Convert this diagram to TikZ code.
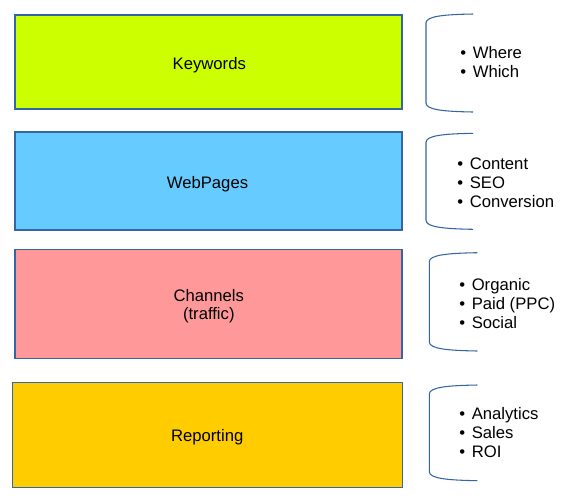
\documentclass[tikz,border=0pt]{standalone}
\usepackage{fontspec}
\setmainfont{Liberation Sans}
\definecolor{edge}{HTML}{3465A4}
\definecolor{lime}{HTML}{CCFF00}
\definecolor{sky}{HTML}{66CCFF}
\definecolor{salmon}{HTML}{FF9999}
\definecolor{gold}{HTML}{FFCC00}
\begin{document}
\begin{tikzpicture}[x=0.75pt,y=-0.75pt,
  box/.style={draw=edge,line width=0.8pt,rectangle,inner sep=0pt},
  lbl/.style={anchor=base,inner sep=0pt,font=\fontsize{12.5}{14.2}\selectfont},
  brk/.style={draw=edge,line width=0.8pt},
  item/.style={anchor=base west,inner sep=0pt,font=\fontsize{12.5}{14.2}\selectfont}]
\useasboundingbox (0,0) rectangle (568,501);
\newcommand{\itm}[1]{\textbullet\hspace{5pt}#1}
% boxes
\node[box,fill=lime,minimum width=290.25pt,minimum height=70.5pt] (kw) at (208.5,62) {};
\node[box,fill=sky,minimum width=290.25pt,minimum height=73.5pt] (wp) at (208.5,181) {};
\node[box,fill=salmon,minimum width=290.25pt,minimum height=81.5pt] (ch) at (208.5,303.7) {};
\node[box,fill=gold,minimum width=292.3pt,minimum height=78.75pt] (rp) at (207.2,434.8) {};
% labels
\node[lbl] (kwl) at (209.3,69) {Keywords};
\node[lbl] (wpl) at (207.5,188.7) {WebPages};
\node[lbl] (chl) at (208.8,301) {Channels};
\node[lbl] (chm) at (208.8,319.5) {(traffic)};
\node[lbl] (rpl) at (207.2,441.7) {Reporting};
% brackets
\draw[brk] (473,14) .. controls (445,14.5) and (426,16) .. (426,23) -- (426,103) .. controls (426,110) and (445,111.5) .. (473,112);
\draw[brk] (473,133.3) .. controls (445,133.8) and (426,135.3) .. (426,142.3) -- (426,220.3) .. controls (426,227.3) and (445,228.8) .. (473,229.3);
\draw[brk] (477.3,252.7) .. controls (449,253.2) and (429.3,254.7) .. (429.3,261.7) -- (429.3,342) .. controls (429.3,349) and (449,350.5) .. (477.3,351);
\draw[brk] (477.3,385) .. controls (449,385.5) and (429.3,387) .. (429.3,394) -- (429.3,471.7) .. controls (429.3,478.7) and (449,480.2) .. (477.3,480.7);
% lists
\node[item] (a1) at (460,58) {\itm{Where}};
\node[item] (a2) at (460,77) {\itm{Which}};
\node[item] (b1) at (457,169.7) {\itm{Content}};
\node[item] (b2) at (457,188.5) {\itm{SEO}};
\node[item] (b3) at (457,207.5) {\itm{Conversion}};
\node[item] (c1) at (459,290) {\itm{Organic}};
\node[item] (c2) at (459,309) {\itm{Paid (PPC)}};
\node[item] (c3) at (459,328) {\itm{Social}};
\node[item] (d1) at (459,419) {\itm{Analytics}};
\node[item] (d2) at (459,438) {\itm{Sales}};
\node[item] (d3) at (459,457.3) {\itm{ROI}};
\end{tikzpicture}
\end{document}
